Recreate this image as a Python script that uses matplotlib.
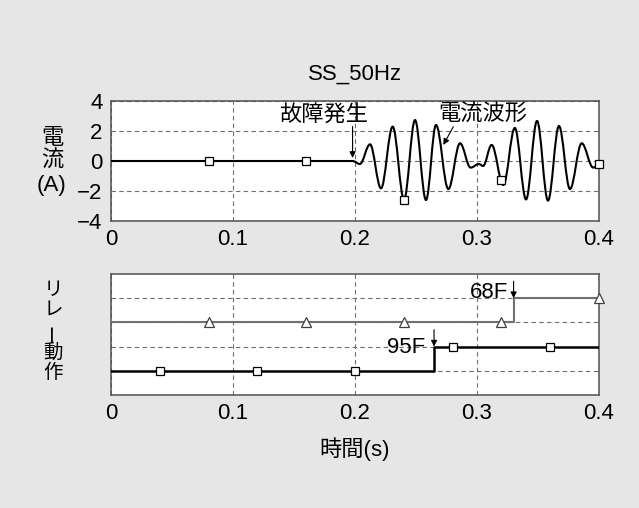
"""Fault current waveform (SS_50Hz) and relay operation timing chart."""

import matplotlib

matplotlib.use("Agg")
import matplotlib.pyplot as plt
from matplotlib.path import Path
from matplotlib.patches import PathPatch

plt.rcParams["font.family"] = ["Liberation Sans", "Noto Sans CJK JP", "DejaVu Sans"]
plt.rcParams["font.size"] = 16

# current waveform: extrema (time s, current A)
wave_t = [0.0, 0.198, 0.204, 0.2123, 0.2213, 0.2309, 0.2402, 0.2492, 0.2582,
          0.2664, 0.2765, 0.2861, 0.2948, 0.3015, 0.305, 0.312, 0.3216, 0.331,
          0.3402, 0.3492, 0.3582, 0.3672, 0.3762, 0.3858, 0.3953, 0.4]
wave_i = [0.0, 0.0, -0.2, 1.11, -1.82, 2.29, -2.56, 2.73, -2.6,
          2.4, -1.87, 1.18, -0.44, -0.2, -0.33, 1.07, -1.6, 2.2,
          -2.56, 2.67, -2.64, 2.33, -1.87, 1.18, -0.44, -0.2]
wave_mark_t = [0.08, 0.16, 0.24, 0.32, 0.40]
wave_mark_i = [0.0, 0.0, -2.6, -1.27, -0.2]

# relay states (step levels on an arbitrary 0..5 scale)
r95_t = [0.0, 0.265, 0.4]
r95_lv = [1, 2, 2]
r95_mark_t = [0.04, 0.12, 0.20, 0.28, 0.36]
r95_mark_lv = [1, 1, 1, 2, 2]
r68_t = [0.0, 0.33, 0.4]
r68_lv = [3, 4, 4]
r68_mark_t = [0.08, 0.16, 0.24, 0.32, 0.40]
r68_mark_lv = [3, 3, 3, 3, 4]

x_ticks = [0, 0.1, 0.2, 0.3, 0.4]
x_labels = ["0", "0.1", "0.2", "0.3", "0.4"]
i_ticks = [-4, -2, 0, 2, 4]

BG = "#e6e6e6"
GRID = dict(linestyle=(0, (4, 3)), color="#6e6e6e", lw=0.8)


def smooth_path(ts, vs, k=0.3642):
    # cubic segments with flat tangents at each extremum
    verts = [(ts[0], vs[0])]
    codes = [Path.MOVETO]
    for i in range(1, len(ts)):
        dt = ts[i] - ts[i - 1]
        verts += [(ts[i - 1] + k * dt, vs[i - 1]), (ts[i] - k * dt, vs[i]), (ts[i], vs[i])]
        codes += [Path.CURVE4] * 3
    return Path(verts, codes)


def style_axes(ax):
    ax.set_facecolor("white")
    ax.set_axisbelow(True)
    ax.grid(True, **GRID)
    for s in ax.spines.values():
        s.set_color("#505050")
        s.set_linewidth(1.1)
    ax.set_xlim(0, 0.4)
    ax.set_xticks(x_ticks)
    ax.set_xticklabels(x_labels)
    ax.tick_params(length=0, pad=6)


fig = plt.figure(figsize=(6.39, 5.08), dpi=100, facecolor=BG)
W, H = 639, 508
ax1 = fig.add_axes([111 / W, 1 - 221 / H, 488 / W, 120 / H])
ax2 = fig.add_axes([111 / W, 1 - 395 / H, 488 / W, 121 / H])

# --- current panel
style_axes(ax1)
ax1.set_ylim(-4, 4)
ax1.set_yticks(i_ticks)
ax1.add_patch(PathPatch(smooth_path(wave_t, wave_i), fill=False, edgecolor="black",
                        lw=1.5, zorder=3))
ax1.plot(wave_mark_t, wave_mark_i, ls="none", marker="s", ms=6, mfc="white",
         mec="black", mew=0.9, zorder=4, clip_on=False)
ax1.set_title("SS_50Hz", pad=15, fontsize=16)

arrow = dict(arrowstyle="-|>", color="black", lw=0.8, mutation_scale=9,
             shrinkA=0, shrinkB=0)
ax1.text(0.174, 3.07, "故障発生", ha="center", va="center")
ax1.annotate("", xy=(0.198, 0.2), xytext=(0.198, 2.3), arrowprops=arrow)
ax1.text(0.3045, 3.07, "電流波形", ha="center", va="center")
ax1.annotate("", xy=(0.2724, 1.07), xytext=(0.2806, 2.29), arrowprops=arrow)

# --- relay panel
style_axes(ax2)
ax2.set_ylim(0, 5)
ax2.set_yticks([1, 2, 3, 4])
ax2.set_yticklabels([])
ax2.step(r68_t, r68_lv, where="post", color="#707070", lw=1.5, zorder=3)
ax2.plot(r68_mark_t, r68_mark_lv, ls="none", marker="^", ms=7, mfc="white",
         mec="#404040", mew=0.9, zorder=4, clip_on=False)
ax2.step(r95_t, r95_lv, where="post", color="black", lw=1.8, zorder=3)
ax2.plot(r95_mark_t, r95_mark_lv, ls="none", marker="s", ms=6, mfc="white",
         mec="black", mew=0.9, zorder=4, clip_on=False)

ax2.text(0.326, 4.25, "68F", ha="right", va="center")
ax2.annotate("", xy=(0.33, 4.0), xytext=(0.33, 4.7), arrowprops=arrow)
ax2.text(0.2574, 1.97, "95F", ha="right", va="center")
ax2.annotate("", xy=(0.2648, 2.0), xytext=(0.2648, 2.7), arrowprops=arrow)
ax2.set_xlabel("時間(s)", labelpad=9)

# stacked vertical axis titles, one glyph per row
for ch, y in zip(["電", "流", "(A)"], [138, 161, 186]):
    fig.text(52 / W, 1 - y / H, ch, ha="center", va="center")
for ch, y, rot in zip(["リ", "レ", "ー", "動", "作"], [290, 310, 332, 353, 373],
                      [0, 0, 90, 0, 0]):
    fig.text(53 / W, 1 - y / H, ch, ha="center", va="center", rotation=rot,
             fontsize=14)

fig.savefig("out.png", dpi=100, facecolor=BG)
